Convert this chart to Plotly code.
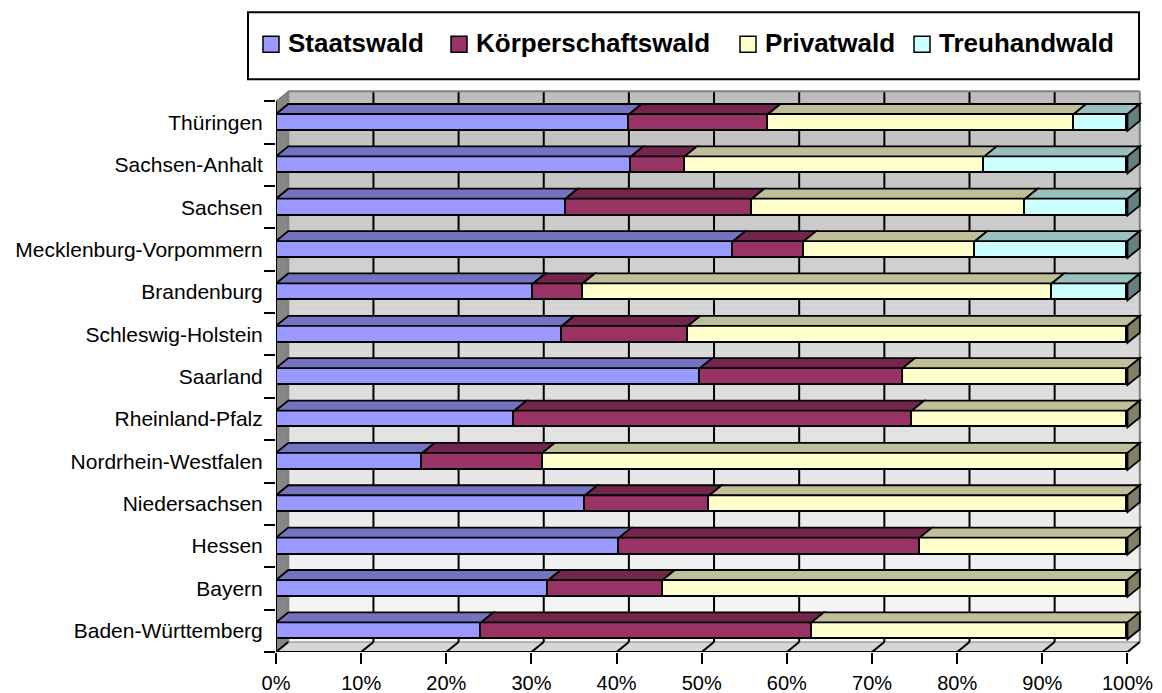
import plotly.graph_objects as go

# Waldbesitzarten je Bundesland, Anteile in Prozent (von unten nach oben)
laender = [
    "Baden-Württemberg", "Bayern", "Hessen", "Niedersachsen",
    "Nordrhein-Westfalen", "Rheinland-Pfalz", "Saarland",
    "Schleswig-Holstein", "Brandenburg", "Mecklenburg-Vorpommern",
    "Sachsen", "Sachsen-Anhalt", "Thüringen",
]
staatswald = [24.1, 32.0, 40.3, 36.3, 17.2, 28.0, 49.8, 33.6, 30.2, 53.7, 34.0, 41.7, 41.5]
koerperschaftswald = [38.8, 13.4, 35.3, 14.6, 14.1, 46.7, 23.8, 14.8, 5.8, 8.3, 21.9, 6.3, 16.3]
privatwald = [37.1, 54.6, 24.4, 49.1, 68.7, 25.3, 26.4, 51.6, 55.1, 20.1, 32.1, 35.2, 35.9]
treuhandwald = [0, 0, 0, 0, 0, 0, 0, 0, 8.9, 17.9, 12.0, 16.8, 6.3]

serien = ["Staatswald", "Körperschaftswald", "Privatwald", "Treuhandwald"]
werte = [staatswald, koerperschaftswald, privatwald, treuhandwald]
x_ticks = list(range(0, 101, 10))

# Farben: Vorderseite, Oberseite, Seitenfläche
front = ["#9999ff", "#993366", "#ffffcc", "#ccffff"]
top = ["#7373bf", "#73264c", "#bfbf99", "#99bfbf"]
side = ["#4d4d80", "#4d1a33", "#808066", "#668080"]

# Geometrie des Diagramms
W, H = 1162, 693
ML, MR, MB = 276, 20, 41
BAR_W = 0.40              # Balkendicke in Kategorie-Einheiten
DX = 1.444                # Tiefenversatz in %-Einheiten
DY = 0.236                # Tiefenversatz in Kategorie-Einheiten
X_MAX = 100 + DX + 0.26
Y_MIN, Y_MAX = -0.5, len(laender) - 0.5 + DY + 0.03
PX_PER_UNIT = 42.38
plot_h = (Y_MAX - Y_MIN) * PX_PER_UNIT
MT = H - MB - plot_h
plot_w = W - ML - MR
FONT = "Liberation Sans, Arial"

fig = go.Figure()

ypos = list(range(len(laender)))
for name, vals, col in zip(serien, werte, front):
    fig.add_trace(go.Bar(
        x=[v if v > 0 else None for v in vals], y=ypos, orientation="h",
        name=name, width=BAR_W, showlegend=False,
        marker=dict(color=col, line=dict(color="black", width=1.8)),
    ))

shapes = []

def poly(pts, fill, line_col="black", lw=1.8, layer="above", xref="x", yref="y"):
    path = "M " + " L ".join(f"{x},{y}" for x, y in pts) + " Z"
    shapes.append(dict(type="path", path=path, xref=xref, yref=yref,
                       fillcolor=fill, line=dict(color=line_col, width=lw),
                       layer=layer))

def hex_rgb(h):
    return tuple(int(h[i:i + 2], 16) for i in (1, 3, 5))

# Rückwand mit vertikalem Grauverlauf
wall_y0, wall_y1 = -0.5 + DY, len(laender) - 0.5 + DY
c_bot, c_top = hex_rgb("#f8f8f8"), hex_rgb("#bdbdbd")
n_strips = 80
for k in range(n_strips):
    t = (k + 0.5) / n_strips
    c = tuple(round(a + (b - a) * t) for a, b in zip(c_bot, c_top))
    ya = wall_y0 + (wall_y1 - wall_y0) * k / n_strips
    yb = wall_y0 + (wall_y1 - wall_y0) * (k + 1.05) / n_strips
    shapes.append(dict(type="rect", xref="x", yref="y", x0=DX, x1=100 + DX,
                       y0=ya, y1=min(yb, wall_y1), layer="below",
                       fillcolor=f"rgb{c}", line=dict(width=0)))

# Boden
poly([(0, -0.5), (100, -0.5), (100 + DX, -0.5 + DY), (DX, -0.5 + DY)],
     "#d6d6d6", line_col="#808080", lw=1, layer="below")
# linke Seitenwand
poly([(0, -0.5), (0, len(laender) - 0.5), (DX, wall_y1), (DX, wall_y0)],
     "#868686", line_col="#606060", lw=1, layer="below")

# Gitterlinien auf Rückwand und Boden
for xv in x_ticks:
    col = "black" if 0 < xv < 100 else "#808080"
    shapes.append(dict(type="line", xref="x", yref="y", x0=xv + DX, x1=xv + DX,
                       y0=wall_y0, y1=wall_y1, layer="below",
                       line=dict(color=col, width=2)))
    shapes.append(dict(type="line", xref="x", yref="y", x0=xv, x1=xv + DX,
                       y0=-0.5, y1=-0.5 + DY, layer="below",
                       line=dict(color="black", width=2)))
# obere Kante der Rückwand
shapes.append(dict(type="line", xref="x", yref="y", x0=DX, x1=100 + DX,
                   y0=wall_y1, y1=wall_y1, layer="below",
                   line=dict(color="#808080", width=2)))

# Ober- und Seitenflächen der Balken
for i in ypos:
    cum = 0.0
    last = None
    yt = i + BAR_W / 2
    yb = i - BAR_W / 2
    for s, vals in enumerate(werte):
        v = vals[i]
        if v <= 0:
            continue
        x0, x1 = cum, cum + v
        poly([(x0, yt), (x1, yt), (x1 + DX, yt + DY), (x0 + DX, yt + DY)], top[s])
        cum = x1
        last = s
    poly([(cum, yb), (cum, yt), (cum + DX, yt + DY), (cum + DX, yb + DY)], side[last])

# vordere Achslinien
shapes.append(dict(type="line", xref="x", yref="y", x0=0, x1=0, y0=-0.5,
                   y1=len(laender) - 0.5, line=dict(color="black", width=2)))
shapes.append(dict(type="line", xref="x", yref="y", x0=0, x1=100, y0=-0.5,
                   y1=-0.5, line=dict(color="black", width=2)))

# Legende
def pxx(p):
    return (p - ML) / plot_w

def pxy(p):
    return (H - MB - p) / plot_h

shapes.append(dict(type="rect", xref="paper", yref="paper",
                   x0=pxx(248), x1=pxx(1139), y0=pxy(79), y1=pxy(12),
                   line=dict(color="black", width=2), fillcolor="white"))
annotations = []
leg_sq = [263, 451, 740, 914]
leg_tx = [286, 474, 763, 937]
for name, col, sx, tx in zip(serien, front, leg_sq, leg_tx):
    shapes.append(dict(type="rect", xref="paper", yref="paper",
                       x0=pxx(sx), x1=pxx(sx + 16), y0=pxy(52), y1=pxy(36),
                       fillcolor=col, line=dict(color="black", width=1.5)))
    annotations.append(dict(text=f"<b>{name}</b>", xref="paper", yref="paper",
                            x=pxx(tx), y=pxy(43), xanchor="left", yanchor="middle",
                            showarrow=False,
                            font=dict(family=FONT, size=26, color="black")))

fig.update_layout(
    width=W, height=H,
    margin=dict(l=ML, r=MR, t=MT, b=MB, pad=0, autoexpand=False),
    barmode="stack", bargap=0,
    paper_bgcolor="white", plot_bgcolor="white",
    font=dict(family=FONT, size=20, color="black"),
    shapes=shapes, annotations=annotations,
    showlegend=False,
    xaxis=dict(range=[0, X_MAX], tickvals=x_ticks,
               ticktext=[f"{v}%" for v in x_ticks],
               ticks="outside", ticklen=11, tickwidth=2, tickcolor="black",
               ticklabelstandoff=2, automargin=False,
               showgrid=False, zeroline=False, showline=False, fixedrange=True),
    yaxis=dict(range=[Y_MIN, Y_MAX], tickvals=ypos, ticktext=laender,
               tickfont=dict(family=FONT, size=21, color="black"),
               ticks="outside", ticklen=8, tickcolor="rgba(0,0,0,0)",
               automargin=False,
               minor=dict(tickmode="array",
                          tickvals=[k - 0.5 for k in range(len(laender) + 1)],
                          ticks="outside", ticklen=11, tickwidth=2,
                          tickcolor="black"),
               showgrid=False, zeroline=False, showline=False, fixedrange=True),
)

fig.write_html("out.html")
